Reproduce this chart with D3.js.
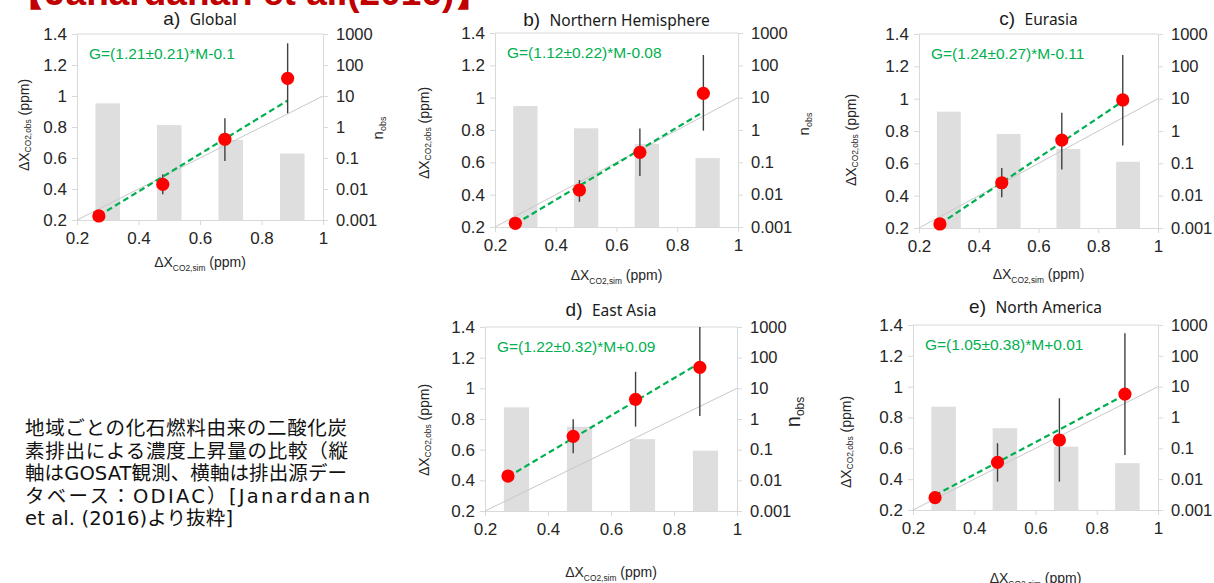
<!DOCTYPE html>
<html>
<head>
<meta charset="utf-8">
<script src="https://cdn.jsdelivr.net/npm/d3@7"></script>
<style>
  body { margin: 0; background: #fff; }
  svg { display: block; font-family: "Liberation Sans", Arial, sans-serif; }
</style>
</head>
<body>
<svg id="chart" width="1214" height="583"></svg>
<script>
// values (Janardanan et al. 2016)
var panelIds   = ["a", "b", "c", "d", "e"];
var panelNames = ["Global", "Northern Hemisphere", "Eurasia", "East Asia", "North America"];
var fitLabels  = ["G=(1.21\u00b10.21)*M-0.1", "G=(1.12\u00b10.22)*M-0.08", "G=(1.24\u00b10.27)*M-0.11",
                  "G=(1.22\u00b10.32)*M+0.09", "G=(1.05\u00b10.38)*M+0.01"];
var fitSlope     = [1.21, 1.12, 1.24, 1.22, 1.05];
var fitIntercept = [-0.1, -0.08, -0.11, 0.09, 0.01];

// simulated (x) vs observed (y) enhancement, with error bars
var simX = [
  [0.271, 0.479, 0.681, 0.885],
  [0.267, 0.478, 0.677, 0.886],
  [0.270, 0.477, 0.678, 0.882],
  [0.273, 0.480, 0.678, 0.882],
  [0.272, 0.476, 0.678, 0.892]
];
var obsY = [
  [0.226, 0.430, 0.721, 1.114],
  [0.223, 0.429, 0.662, 1.027],
  [0.225, 0.480, 0.744, 0.992],
  [0.428, 0.687, 0.928, 1.137],
  [0.280, 0.509, 0.654, 0.952]
];
var errLo = [
  [0.21, 0.366, 0.581, 0.888],
  [0.21, 0.356, 0.515, 0.796],
  [0.21, 0.390, 0.562, 0.710],
  [0.41, 0.576, 0.750, 0.820],
  [0.265, 0.384, 0.384, 0.557]
];
var errHi = [
  [0.24, 0.495, 0.856, 1.340],
  [0.235, 0.491, 0.810, 1.264],
  [0.24, 0.571, 0.913, 1.270],
  [0.445, 0.798, 1.108, 1.400],
  [0.295, 0.633, 0.925, 1.346]
];

// number of observations per bin (right, log axis)
var binCenters = [0.3, 0.5, 0.7, 0.9];
var nobs = [
  [5.8, 1.15, 0.38, 0.14],
  [5.5, 1.13, 0.37, 0.135],
  [3.97, 0.81, 0.277, 0.112],
  [2.4, 0.56, 0.22, 0.093],
  [2.24, 0.45, 0.113, 0.033]
];

var xTicks = [0.2, 0.4, 0.6, 0.8, 1];
var yTicks = [0.2, 0.4, 0.6, 0.8, 1, 1.2, 1.4];
var nTicks = [0.001, 0.01, 0.1, 1, 10, 100, 1000];

var noteLines = [
  "地域ごとの化石燃料由来の二酸化炭",
  "素排出による濃度上昇量の比較（縦",
  "軸はGOSAT観測、横軸は排出源デー",
  "タベース：ODIAC）[Janardanan",
  "et al. (2016)より抜粋]"
];
var headerText = "【Janardanan et al.(2016)】";

// where each panel sits on the page
var layout = [
  {l: 77,  r: 323,  t: 34,  b: 220, titleY: 25,  xlabY: 267, ylabX: 25,  ylabY: 125, nX: 379, nY: 128, nSize: 15},
  {l: 495, r: 738,  t: 33,  b: 227, titleY: 26,  xlabY: 280, ylabX: 425, ylabY: 133, nX: 805, nY: 124, nSize: 15},
  {l: 919, r: 1158, t: 34,  b: 228, titleY: 25,  xlabY: 279, ylabX: 852, ylabY: 140, nX: null},
  {l: 485, r: 737,  t: 327, b: 511, titleY: 316, xlabY: 577, ylabX: 425, ylabY: 430, nX: 795, nY: 412, nSize: 20},
  {l: 913, r: 1158, t: 325, b: 510, titleY: 313, xlabY: 583, ylabX: 847, ylabY: 442, nX: null}
];
// caption line widths as set in the original
var noteWidths = [322, 323, 322, 345, 208];

var green = "#00b050";
var axisGrey = "#d9d9d9";
var textCol = "#262626";

var svg = d3.select("#chart");

// red header, mostly cut off at the top edge
svg.append("text")
    .attr("x", 8).attr("y", 5)
    .attr("fill", "#c00000")
    .style("font-size", "37px").style("font-weight", "bold")
    .text(headerText);

function styleAxis(g, size) {
  g.select(".domain").attr("stroke", axisGrey);
  g.selectAll(".tick line").attr("stroke", axisGrey);
  g.selectAll(".tick text").attr("fill", textCol).style("font-size", size + "px")
      .style("font-family", "\"Liberation Sans\", Arial, sans-serif");
}

function subLabel(sel, main, sub, rest, size) {
  sel.append("tspan").text(main);
  sel.append("tspan").attr("dy", size * 0.3).style("font-size", (size * 0.6) + "px").text(sub);
  if (rest) sel.append("tspan").attr("dy", -size * 0.3).text(rest);
}

panelIds.forEach(function(id, i) {
  var L = layout[i];
  var g = svg.append("g").attr("class", "panel-" + id);

  var x = d3.scaleLinear().domain([0.2, 1]).range([L.l, L.r]);
  var y = d3.scaleLinear().domain([0.2, 1.4]).range([L.b, L.t]);
  var n = d3.scaleLog().domain([0.001, 1000]).range([L.b, L.t]);

  // bars of n_obs
  g.selectAll("rect.bar")
    .data(binCenters.map(function(c, j) { return {c: c, v: nobs[i][j]}; }))
    .enter().append("rect")
      .attr("class", "bar")
      .attr("x", function(d) { return x(d.c - 0.04); })
      .attr("width", function(d) { return x(d.c + 0.04) - x(d.c - 0.04); })
      .attr("y", function(d) { return n(d.v); })
      .attr("height", function(d) { return L.b - n(d.v); })
      .attr("fill", "#dedede");

  // top frame line
  g.append("line")
      .attr("x1", L.l).attr("x2", L.r).attr("y1", L.t).attr("y2", L.t)
      .attr("stroke", axisGrey);

  // axes
  g.append("g").attr("transform", "translate(" + L.l + ",0)")
      .call(d3.axisLeft(y).tickValues(yTicks).tickSize(5).tickSizeOuter(0).tickPadding(5)
        .tickFormat(function(d) { return String(d); }))
      .call(styleAxis, 17);
  g.append("g").attr("transform", "translate(0," + L.b + ")")
      .call(d3.axisBottom(x).tickValues(xTicks).tickSize(5).tickSizeOuter(0).tickPadding(7)
        .tickFormat(function(d) { return String(d); }))
      .call(styleAxis, 17);
  g.append("g").attr("transform", "translate(" + L.r + ",0)")
      .call(d3.axisRight(n).tickValues(nTicks).tickSize(5).tickSizeOuter(0).tickPadding(8)
        .tickFormat(function(d) { return String(d); }))
      .call(styleAxis, 16.5);

  // 1:1 line
  g.append("line")
      .attr("x1", x(0.2)).attr("y1", y(0.2)).attr("x2", x(1)).attr("y2", y(1))
      .attr("stroke", "#c8c8c8").attr("stroke-width", 1);

  // fitted line over the range of the points
  var x0 = simX[i][0], x1 = simX[i][simX[i].length - 1];
  g.append("line")
      .attr("x1", x(x0)).attr("y1", y(fitSlope[i] * x0 + fitIntercept[i]))
      .attr("x2", x(x1)).attr("y2", y(fitSlope[i] * x1 + fitIntercept[i]))
      .attr("stroke", green).attr("stroke-width", 2.2).attr("stroke-dasharray", "6,3.5");

  var pts = simX[i].map(function(v, j) {
    return {x: v, y: obsY[i][j], lo: errLo[i][j], hi: errHi[i][j]};
  });

  g.selectAll("line.err").data(pts).enter().append("line")
      .attr("class", "err")
      .attr("x1", function(d) { return x(d.x); }).attr("x2", function(d) { return x(d.x); })
      .attr("y1", function(d) { return y(d.lo); }).attr("y2", function(d) { return y(d.hi); })
      .attr("stroke", "#404040").attr("stroke-width", 1.4);

  g.selectAll("circle.pt").data(pts).enter().append("circle")
      .attr("class", "pt")
      .attr("cx", function(d) { return x(d.x); })
      .attr("cy", function(d) { return y(d.y); })
      .attr("r", 6.6)
      .attr("fill", "#ff0000");

  // fit equation
  g.append("text")
      .attr("x", L.l + 12).attr("y", L.t + 25)
      .attr("fill", green).style("font-size", "15.5px")
      .text(fitLabels[i]);

  // panel title
  var title = g.append("text")
      .attr("x", (L.l + L.r) / 2).attr("y", L.titleY)
      .attr("text-anchor", "middle").attr("fill", "#1a1a1a");
  title.append("tspan").style("font-size", "19px").text(id + ")\u2002");
  title.append("tspan").style("font-size", "15.5px")
      .style("font-family", "\"Noto Sans\", \"Open Sans\", sans-serif").text(panelNames[i]);

  // x label
  var xl = g.append("text")
      .attr("x", (L.l + L.r) / 2).attr("y", L.xlabY)
      .attr("text-anchor", "middle").attr("fill", textCol).style("font-size", "14px");
  subLabel(xl, "\u0394X", "CO2,sim", " (ppm)", 14);

  // y label
  var yl = g.append("text")
      .attr("transform", "translate(" + L.ylabX + "," + L.ylabY + ") rotate(-90)")
      .attr("text-anchor", "middle").attr("dominant-baseline", "middle")
      .attr("fill", textCol).style("font-size", "14px");
  subLabel(yl, "\u0394X", "CO2,obs", " (ppm)", 14);

  // right label
  if (L.nX !== null) {
    var nl = g.append("text")
        .attr("transform", "translate(" + L.nX + "," + L.nY + ") rotate(-90)")
        .attr("text-anchor", "middle").attr("dominant-baseline", "middle")
        .attr("fill", textCol).style("font-size", L.nSize + "px");
    subLabel(nl, "n", "obs", null, L.nSize);
  }
});

// caption in Japanese
svg.append("g").selectAll("text")
  .data(noteLines)
  .enter().append("text")
    .attr("x", 25)
    .attr("y", function(d, j) { return 435 + j * 22.6; })
    .attr("textLength", function(d, j) { return noteWidths[j]; })
    .attr("lengthAdjust", "spacing")
    .attr("fill", "#111")
    .style("font-family", "\"DejaVu Sans\", \"Noto Sans CJK JP\", sans-serif")
    .style("font-size", "19.5px")
    .text(function(d) { return d; });
</script>
</body>
</html>
